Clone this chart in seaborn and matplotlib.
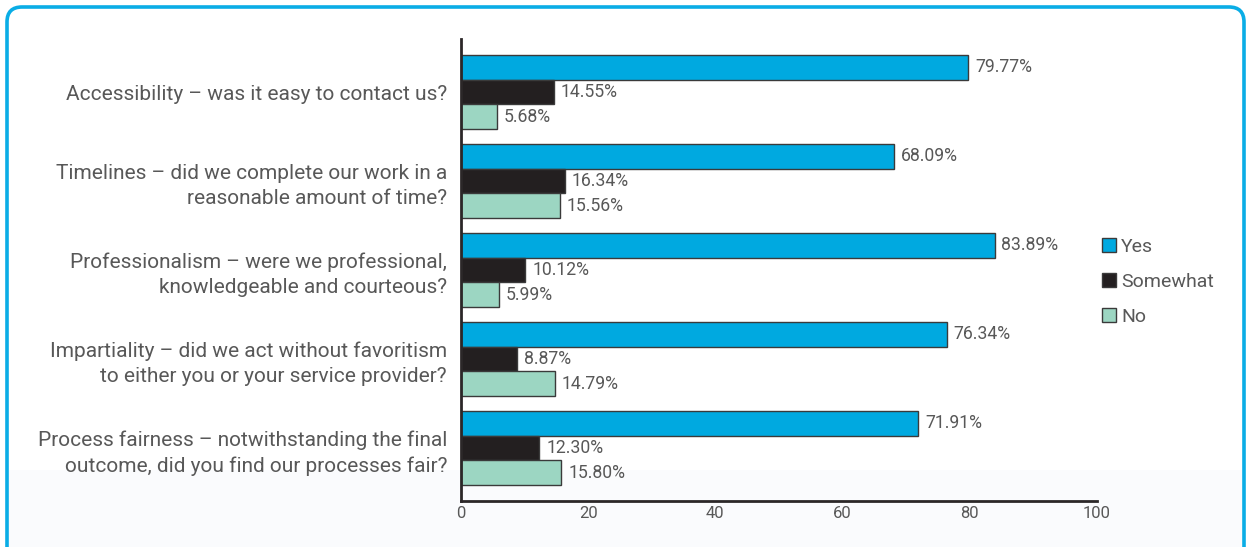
import matplotlib
matplotlib.use("Agg")
import matplotlib.pyplot as plt
from matplotlib.patches import FancyBboxPatch, Rectangle, Patch
import seaborn as sns
import pandas as pd

questions = [
    "Accessibility – was it easy to contact us?",
    "Timelines – did we complete our work in a\nreasonable amount of time?",
    "Professionalism – were we professional,\nknowledgeable and courteous?",
    "Impartiality – did we act without favoritism\nto either you or your service provider?",
    "Process fairness – notwithstanding the final\noutcome, did you find our processes fair?",
]
responses = ["Yes", "Somewhat", "No"]
yes_pct = [79.77, 68.09, 83.89, 76.34, 71.91]
somewhat_pct = [14.55, 16.34, 10.12, 8.87, 12.30]
no_pct = [5.68, 15.56, 5.99, 14.79, 15.80]
x_ticks = [0, 20, 40, 60, 80, 100]

colors = {"Yes": "#00A9E0", "Somewhat": "#231F20", "No": "#9CD6C2"}
text_color = "#585858"
axis_color = "#2B2728"

rows = []
for q, y, s, n in zip(questions, yes_pct, somewhat_pct, no_pct):
    rows.append({"question": q, "response": "Yes", "pct": y})
    rows.append({"question": q, "response": "Somewhat", "pct": s})
    rows.append({"question": q, "response": "No", "pct": n})
df = pd.DataFrame(rows)

sns.set_theme(style="white")
plt.rcParams["font.family"] = ["Roboto", "DejaVu Sans"]

W, H = 1251, 547
fig = plt.figure(figsize=(W / 100, H / 100), dpi=100)
fig.patch.set_facecolor("white")

# pale band along the bottom of the panel
fig.patches.append(Rectangle((8 / W, 0), (W - 16) / W, (H - 470) / H,
                             transform=fig.transFigure, facecolor="#FAFBFD",
                             edgecolor="none", zorder=-5))
# rounded frame around the panel
fig.patches.append(FancyBboxPatch((7 / W, -20 / H), (W - 14) / W, (H + 13) / H,
                                  boxstyle="round,pad=0,rounding_size=0.012",
                                  transform=fig.transFigure, facecolor="none",
                                  edgecolor="#0AADE6", linewidth=2.6, zorder=-4,
                                  mutation_aspect=W / H))

ax = fig.add_axes([461 / W, 1 - 501.4 / H, (1097 - 461) / W, (501.4 - 38.6) / H])
ax.set_facecolor("none")
ax.set_zorder(2)

sns.barplot(data=df, y="question", x="pct", hue="response", hue_order=responses,
            palette=colors, saturation=1, orient="h", width=0.83, ax=ax,
            edgecolor="#3A3A3A", linewidth=1.0, legend=False)

for container in ax.containers:
    ax.bar_label(container, labels=[f"{v:.2f}%" for v in container.datavalues],
                 padding=5, fontsize=12.7, color=text_color)

ax.set_xlim(0, 100)
ax.set_ylim(4.6, -0.6)
ax.set_xticks(x_ticks)
ax.set_xticklabels([str(t) for t in x_ticks])
ax.set_xlabel("")
ax.set_ylabel("")
ax.tick_params(axis="x", direction="in", length=5, width=2, color=axis_color,
               labelsize=12, labelcolor=text_color, pad=3)
ax.tick_params(axis="y", length=0, labelsize=15, labelcolor=text_color, pad=10)
for lbl in ax.get_yticklabels():
    lbl.set_horizontalalignment("right")
    lbl.set_multialignment("right")
    lbl.set_linespacing(1.4)

for side in ["top", "right"]:
    ax.spines[side].set_visible(False)
for side in ["left", "bottom"]:
    ax.spines[side].set_color(axis_color)
    ax.spines[side].set_linewidth(2)

handles = [Patch(facecolor=colors[r], edgecolor="#3A3A3A", linewidth=1.0) for r in responses]
leg = fig.legend(handles, responses, loc="upper left",
                 bbox_to_anchor=(1084 / W, 1 - 220 / H), frameon=False,
                 handlelength=0.72, handleheight=0.72, handletextpad=0.3,
                 labelspacing=0.88, prop={"size": 14})
for t in leg.get_texts():
    t.set_color(text_color)

fig.savefig("out.png", dpi=100)
